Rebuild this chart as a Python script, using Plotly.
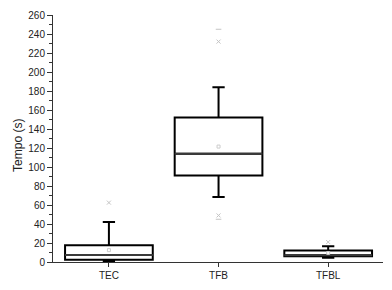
import plotly.graph_objects as go

categories = ["TEC", "TFB", "TFBL"]
q1 = [2.5, 91, 6]
median = [7.5, 114, 7]
q3 = [17.7, 152, 12]
lower_whisker = [1, 68.5, 4.5]
upper_whisker = [42, 184, 16.5]
means = [12.5, 121.5, 9.5]
pct_markers = [[62.5], [49, 232], [21]]   # 1%/99% (x markers)
extreme_markers = [[], [45, 245], []]     # min/max (dash markers)

xs = list(range(len(categories)))

fig = go.Figure()
fig.add_trace(go.Box(
    x=xs, q1=q1, median=median, q3=q3,
    lowerfence=lower_whisker, upperfence=upper_whisker,
    width=0.8, whiskerwidth=0.14,
    fillcolor="white", line=dict(color="black", width=2),
    boxpoints=False, showlegend=False, hoverinfo="skip",
))
for i in xs:
    fig.add_trace(go.Scatter(x=[i - 0.4, i + 0.4], y=[median[i], median[i]], mode="lines",
                             line=dict(color="#3a3a3a", width=2), showlegend=False))
fig.add_trace(go.Scatter(x=xs, y=means, mode="markers",
                         marker=dict(symbol="square-open", size=3, color="#cccccc", line=dict(width=1)),
                         showlegend=False))
px, py = [], []
for i, vals in enumerate(pct_markers):
    for v in vals:
        px.append(i); py.append(v)
fig.add_trace(go.Scatter(x=px, y=py, mode="markers",
                         marker=dict(symbol="x-thin-open", size=4, color="#c4c4c4", line=dict(width=1, color="#c4c4c4")),
                         showlegend=False))
ex, ey = [], []
for i, vals in enumerate(extreme_markers):
    for v in vals:
        ex.append(i); ey.append(v)
fig.add_trace(go.Scatter(x=ex, y=ey, mode="markers",
                         marker=dict(symbol="line-ew-open", size=4, color="#c4c4c4", line=dict(width=1, color="#c4c4c4")),
                         showlegend=False))

fig.update_layout(
    width=392, height=290,
    margin=dict(l=53, r=9, t=15, b=26),
    paper_bgcolor="white", plot_bgcolor="white",
    font=dict(family="Liberation Sans, Arial, sans-serif", size=10, color="#222"),
    xaxis=dict(range=[-0.51, 2.5], tickvals=xs, ticktext=categories,
               showgrid=False, zeroline=False, showline=True, linecolor="#333", linewidth=1,
               ticks="outside", ticklen=4, tickcolor="#333"),
    yaxis=dict(range=[0, 260], dtick=20, showgrid=False, zeroline=False,
               showline=True, linecolor="#333", linewidth=1,
               ticks="outside", ticklen=5, tickcolor="#333",
               minor=dict(ticks="outside", dtick=10, ticklen=3, tickcolor="#333")),
    annotations=[dict(text="Tempo (s)", textangle=-90, xref="paper", yref="paper",
                      x=-53/330 + 18/330, y=(264 - 146) / 249, xanchor="center", yanchor="middle",
                      showarrow=False, font=dict(size=12, color="#222"))],
)
fig.write_html("out.html")
